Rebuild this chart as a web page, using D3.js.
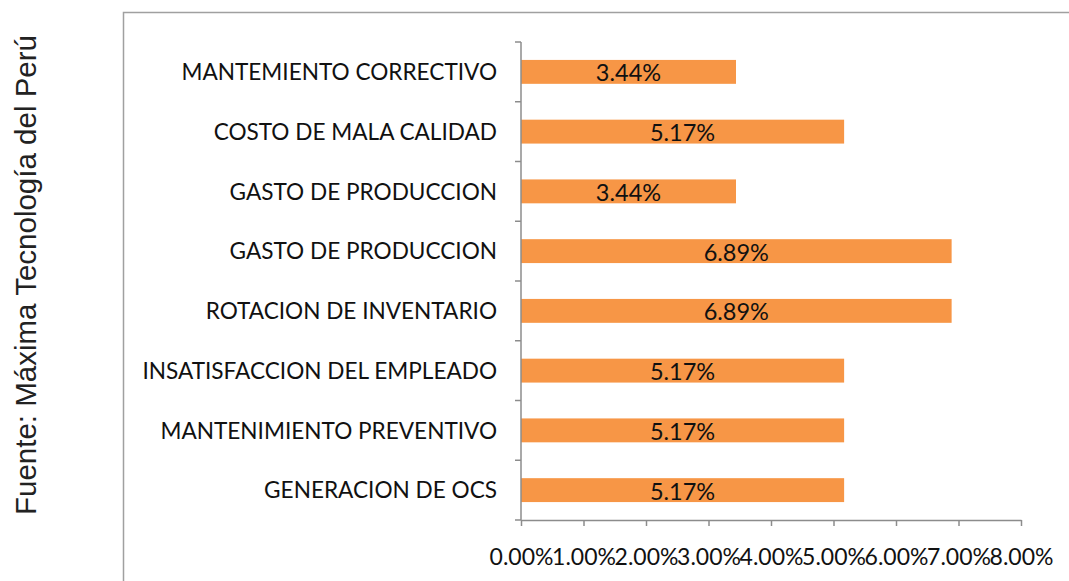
<!DOCTYPE html>
<html>
<head>
<meta charset="utf-8">
<script src="https://cdn.jsdelivr.net/npm/d3@7"></script>
<style>
  body { margin: 0; background: #fff; }
  svg { display: block; }
</style>
</head>
<body>
<svg id="chart" width="1069" height="581"></svg>
<script>
// chart values (top to bottom)
var categories = ['MANTEMIENTO CORRECTIVO', 'COSTO DE MALA CALIDAD', 'GASTO DE PRODUCCION',
                  'GASTO DE PRODUCCION ', 'ROTACION DE INVENTARIO', 'INSATISFACCION DEL EMPLEADO',
                  'MANTENIMIENTO PREVENTIVO', 'GENERACION DE OCS']
var values = [3.44, 5.17, 3.44, 6.89, 6.89, 5.17, 5.17, 5.17]
var x_ticks = [0, 1, 2, 3, 4, 5, 6, 7, 8]
var source_text = 'Fuente: Máxima Tecnología del Perú'

var svg = d3.select('#chart')
var axis_color = '#8c8c8c'
var bar_color = '#F79646'
var label_font = 'Lato, "Open Sans", sans-serif'

// outer frame (only top and left edges are visible)
svg.append('path')
    .attr('d', 'M123.5,581 V12.5 H1069')
    .attr('fill', 'none')
    .attr('stroke', '#a0a0a0')
    .attr('stroke-width', 1.5)

// rotated source note
svg.append('text')
    .attr('transform', 'translate(36,275) rotate(-90)')
    .attr('text-anchor', 'middle')
    .style('font-family', '"Liberation Sans", Arial, sans-serif')
    .style('font-size', '29.5px')
    .style('fill', '#222')
    .text(source_text)

var plot_left = 521, plot_right = 1021, plot_top = 42, plot_bottom = 520

var x = d3.scaleLinear().domain([0, 8]).range([plot_left, plot_right])
var y = d3.scaleBand().domain(categories).range([plot_top, plot_bottom]).paddingInner(0.6).paddingOuter(0.3)

// bars
svg.selectAll('rect.bar')
    .data(values)
    .enter().append('rect')
        .attr('class', 'bar')
        .attr('x', x(0))
        .attr('y', function(d, i) { return y(categories[i]) })
        .attr('width', function(d) { return x(d) - x(0) })
        .attr('height', y.bandwidth())
        .attr('fill', bar_color)

// value labels, centered in the bar
svg.selectAll('text.value')
    .data(values)
    .enter().append('text')
        .attr('class', 'value')
        .attr('x', function(d) { return (x(0) + x(d)) / 2 })
        .attr('y', function(d, i) { return y(categories[i]) + y.bandwidth() / 2 + 1 })
        .attr('dy', '0.36em')
        .attr('text-anchor', 'middle')
        .style('font-family', label_font)
        .style('font-size', '23.5px')
        .style('fill', '#111')
        .text(function(d) { return d.toFixed(2) + '%' })

// y axis: line + ticks at band boundaries
var step = (plot_bottom - plot_top) / categories.length
var ya = svg.append('g').attr('stroke', axis_color).attr('stroke-width', 1.5)
ya.append('line').attr('x1', plot_left).attr('x2', plot_left).attr('y1', plot_top).attr('y2', plot_bottom)
ya.selectAll('line.tk')
    .data(d3.range(0, categories.length + 1))
    .enter().append('line')
        .attr('class', 'tk')
        .attr('x1', plot_left - 6).attr('x2', plot_left)
        .attr('y1', function(d) { return plot_top + d * step })
        .attr('y2', function(d) { return plot_top + d * step })

svg.selectAll('text.cat')
    .data(categories)
    .enter().append('text')
        .attr('class', 'cat')
        .attr('x', 497)
        .attr('y', function(d) { return y(d) + y.bandwidth() / 2 })
        .attr('dy', '0.36em')
        .attr('text-anchor', 'end')
        .style('font-family', label_font)
        .style('font-size', '22.6px')
        .style('fill', '#111')
        .text(function(d) { return d.trim() })

// x axis
var xa = svg.append('g')
    .attr('transform', 'translate(0,' + plot_bottom + ')')
    .call(d3.axisBottom(x).tickValues(x_ticks).tickSize(6).tickSizeOuter(0)
        .tickFormat(function(d) { return d.toFixed(2) + '%' }))
xa.select('.domain').attr('stroke', axis_color).attr('stroke-width', 1.5)
xa.selectAll('.tick line').attr('stroke', axis_color).attr('stroke-width', 1.5)
xa.selectAll('.tick text')
    .attr('y', 37)
    .attr('dy', '0.36em')
    .style('font-family', label_font)
    .style('font-size', '23px')
    .style('fill', '#111')
</script>
</body>
</html>
